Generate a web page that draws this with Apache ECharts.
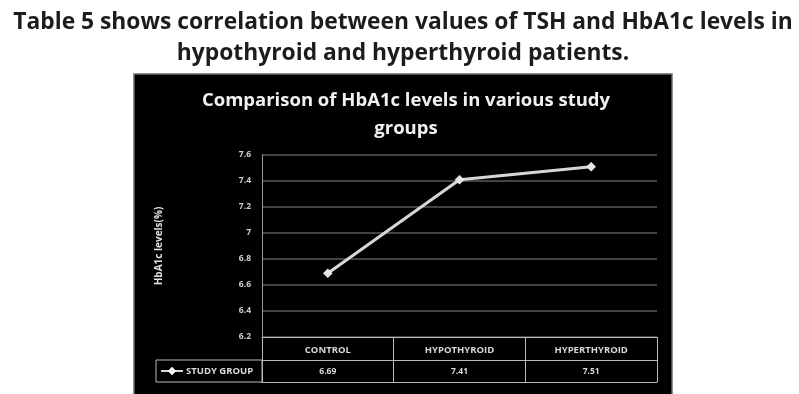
<!DOCTYPE html>
<html>
<head>
<meta charset="utf-8">
<script src="https://cdn.jsdelivr.net/npm/echarts@6/dist/echarts.min.js"></script>
<style>html,body{margin:0;padding:0;background:#fff}#c{width:799px;height:394px}</style>
</head>
<body>
<div id="c"></div>
<script>
const categories = ['CONTROL', 'HYPOTHYROID', 'HYPERTHYROID'];
const studyGroup = [6.69, 7.41, 7.51];
const seriesName = 'STUDY GROUP';
const yMin = 6.2, yMax = 7.6, yStep = 0.2;
const pageHeading = 'Table 5 shows correlation between values of TSH and HbA1c levels in\nhypothyroid and hyperthyroid patients.';
const chartTitle = 'Comparison of HbA1c levels in various study\ngroups';
const yName = 'HbA1c levels(%)';

const chart = echarts.init(document.getElementById('c'), null, {renderer: 'canvas'});
const F = '"Open Sans"';
const tableLine = {color: '#b8b8b8', width: 1};
chart.setOption({
  backgroundColor: '#fff',
  animation: false,
  title: [
    {text: pageHeading, left: 403, top: 7, textAlign: 'center', padding: 0,
     textStyle: {fontFamily: F, fontWeight: 'bold', fontSize: 22.8, color: '#1c1c1c', lineHeight: 31}},
    {text: chartTitle, left: 406, top: 87, textAlign: 'center', padding: 0,
     textStyle: {fontFamily: F, fontWeight: 'bold', fontSize: 18.5, color: '#f0f0f0', lineHeight: 28}}
  ],
  graphic: [
    {type: 'rect', z: -10, shape: {x: 134, y: 74, width: 538, height: 330},
     style: {fill: '#000', stroke: '#6a6a6a', lineWidth: 1.5}},
    {type: 'rect', z: 1, shape: {x: 156, y: 360, width: 106, height: 22},
     style: {fill: 'none', stroke: '#b8b8b8', lineWidth: 1}}
  ],
  legend: {
    left: 160, top: 366, itemWidth: 22, itemHeight: 7, itemGap: 4, padding: 0,
    textStyle: {fontFamily: F, fontWeight: 'bold', fontSize: 9.5, color: '#dcdcdc', padding: [0,0,0,-2]},
    data: [seriesName]
  },
  grid: {left: 262, right: 142, top: 155, bottom: 57, containLabel: false},
  xAxis: [
    {type: 'category', data: categories, position: 'bottom',
     axisLine: {show: true, lineStyle: tableLine},
     axisTick: {show: true, length: 45, lineStyle: tableLine},
     axisLabel: {margin: 8, fontFamily: F, fontWeight: 'bold', fontSize: 9.5, color: '#d8d8d8'},
     splitLine: {show: false}},
    {type: 'category', data: studyGroup.map(v => v.toFixed(2)), position: 'bottom', offset: 23,
     axisLine: {show: true, lineStyle: tableLine},
     axisTick: {show: false},
     axisLabel: {margin: 7, fontFamily: F, fontWeight: 'bold', fontSize: 8.5, color: '#d8d8d8'}},
    {type: 'category', data: categories, position: 'bottom', offset: 45,
     axisLine: {show: true, lineStyle: tableLine},
     axisTick: {show: false}, axisLabel: {show: false}}
  ],
  yAxis: {
    type: 'value', min: yMin, max: yMax, interval: yStep,
    name: yName, nameLocation: 'middle', nameGap: 98, nameRotate: 90,
    nameTextStyle: {fontFamily: F, fontWeight: 'bold', fontSize: 10, color: '#e0e0e0'},
    axisLine: {show: true, lineStyle: {color: '#9a9a9a', width: 1}},
    axisTick: {show: false},
    axisLabel: {margin: 11, fontFamily: F, fontWeight: 'bold', fontSize: 8.5, color: '#cfcfcf',
      formatter: v => String(parseFloat(v.toFixed(1)))},
    splitLine: {show: true, lineStyle: {color: '#5a5a5a', width: 1.5}}
  },
  series: [{
    name: seriesName, type: 'line', xAxisIndex: 0, data: studyGroup,
    symbol: 'diamond', symbolSize: 9,
    lineStyle: {color: '#d6d6d6', width: 3},
    itemStyle: {color: '#e6e6e6', borderColor: '#ffffff', borderWidth: 0.5}
  }]
});
</script>
</body>
</html>
